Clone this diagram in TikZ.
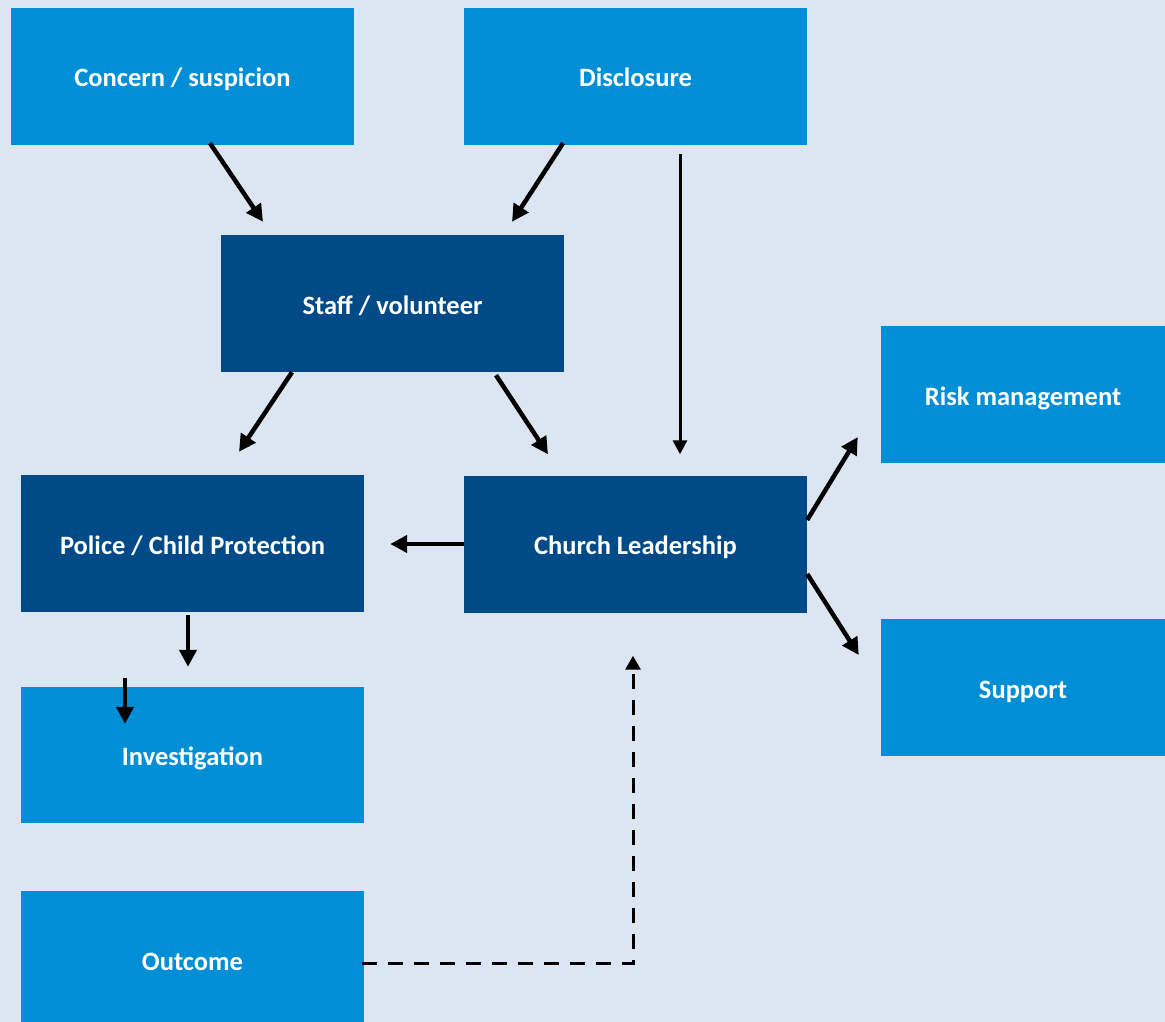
\documentclass[tikz,border=0pt]{standalone}
\usepackage{fontspec}
\setmainfont{Carlito}
\usetikzlibrary{calc,arrows.meta}
\definecolor{bgc}{HTML}{DCE6F2}
\definecolor{lightb}{HTML}{008FD7}
\definecolor{darkb}{HTML}{004A87}
\begin{document}
\begin{tikzpicture}[x=1pt,y=-1pt,
  box/.style={rectangle,draw=none,minimum width=343pt,minimum height=137pt,inner sep=0pt,
    text height=21pt,text depth=0pt,
    text=white,font=\fontsize{26.5}{30}\selectfont\bfseries},
  lbox/.style={box,fill=lightb},
  dbox/.style={box,fill=darkb},
  arr/.style={line width=4.5pt,-{Triangle[length=17pt,width=17pt]}},
  tarr/.style={line width=3pt,-{Triangle[length=14pt,width=14pt]}},
  darr/.style={line width=3pt,dash pattern=on 15pt off 11pt,-{Triangle[length=14pt,width=15pt]}}]
\fill[bgc] (0,0) rectangle (1165,1022);
\clip (0,0) rectangle (1165,1022);
\useasboundingbox (0,0) rectangle (1165,1022);
\node[lbox] (concern) at (182.5,76.5) {Concern / suspicion};
\node[lbox] (disclosure) at (635.5,76.5) {Disclosure};
\node[dbox] (staff) at (392.5,303.5) {Staff / volunteer};
\node[lbox,minimum width=284pt] (risk) at (1023,394.5) {Risk management};
\node[dbox] (police) at (192.5,543.5) {Police / Child Protection};
\node[dbox] (church) at (635.5,544) {Church Leadership};
\node[lbox,minimum width=284pt] (support) at (1023,687.5) {Support};
\node[lbox,minimum height=136pt] (invest) at (192.5,755) {Investigation};
\node[lbox,minimum height=138pt] (outcome) at (192.5,960) {Outcome};

\draw[arr] ($(concern.south)+(27.5,-2)$) -- ($(staff.north)+(-129.5,-13)$);
\draw[arr] ($(disclosure.south)+(-72.5,-2)$) -- ($(staff.north)+(119.5,-13)$);
\draw[tarr] ($(disclosure.south)+(44.5,9)$) -- ($(church.north)+(44.5,-21)$);
\draw[arr] ($(staff.south)+(-100.5,0)$) -- ($(police.north)+(46.5,-23)$);
\draw[arr] ($(staff.south)+(103.5,3)$) -- ($(church.north)+(-87.5,-21)$);
\draw[arr] (church.west) -- ($(church.west -| police.east)+(26,0)$);
\draw[arr] ($(police.south)+(-4.5,3)$) -- ($(invest.north)+(-4.5,-20)$);
\draw[arr] ($(invest.north)+(-67.5,-9)$) -- ($(invest.north)+(-67.5,37)$);
\draw[arr] ($(church.east)+(0,-24)$) -- ($(risk.west)+(-23,42.5)$);
\draw[arr] ($(church.east)+(0,30)$) -- ($(support.west)+(-22,-32.5)$);
\coordinate (corner) at ($(church.south)+(-2.5,351)$);
\draw[darr] ($(outcome.east |- corner)+(-2,0)$) -- (corner) -- ($(church.south)+(-2.5,43)$);
\end{tikzpicture}
\end{document}
